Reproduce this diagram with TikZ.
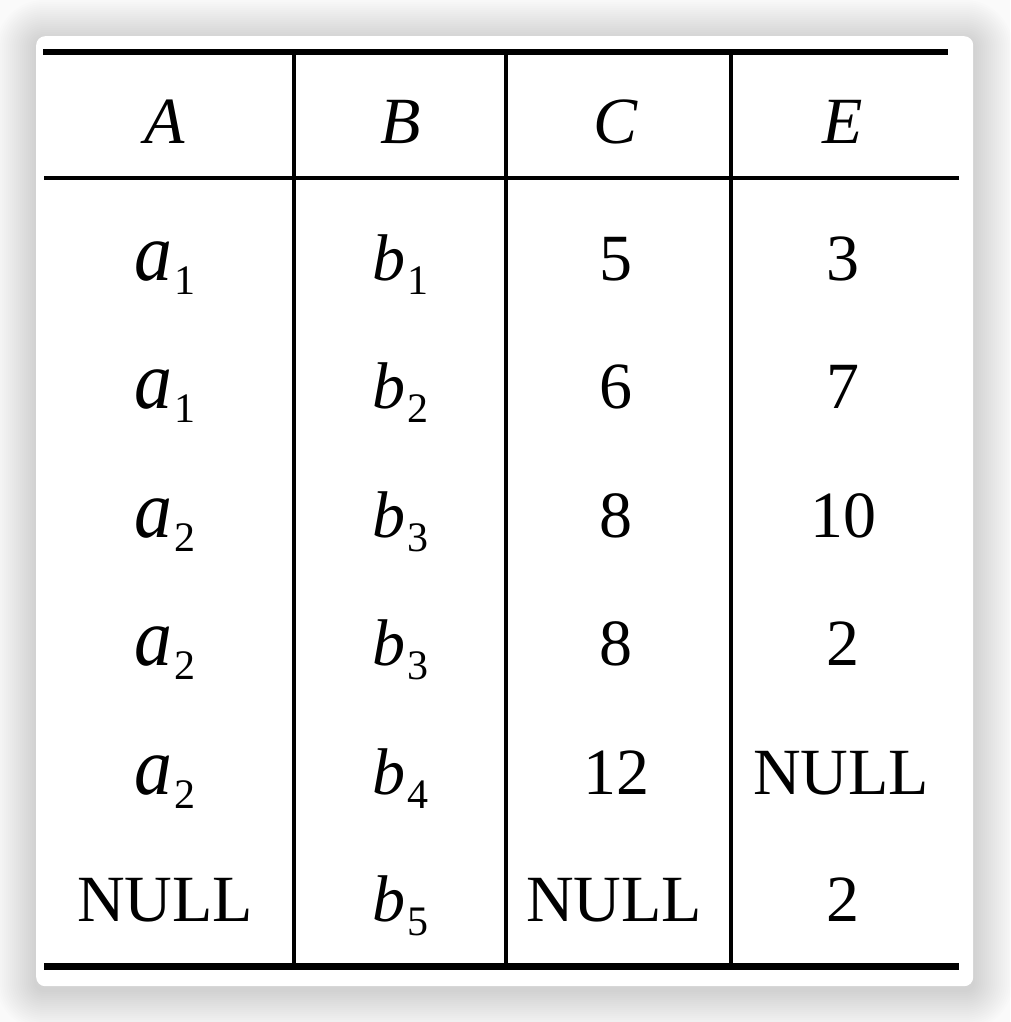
\documentclass[tikz,border=0pt]{standalone}
\usepackage{fontspec}
\usepackage{graphicx}
\setmainfont{Liberation Serif}
\newcommand{\sbs}[1]{\hspace{2pt}\raisebox{-14pt}{\fontsize{42pt}{44pt}\selectfont #1}}
\newcommand{\va}{\scalebox{1.15}[1.25]{\itshape a}}
\newcommand{\vb}{{\itshape b}}
\tikzset{
  cell/.style={anchor=base, inner sep=0pt, font=\fontsize{66pt}{70pt}\selectfont},
  thickrule/.style={line width=6.5pt, black},
  midrule/.style={line width=4pt, black},
  vrule/.style={line width=4pt, black}
}
\begin{document}
\begin{tikzpicture}[x=1pt,y=-1pt]
\useasboundingbox (0,0) rectangle (1010,1022);
\fill[white!98!black] (0,0) rectangle (1010,1022);
% shadow
\foreach \i in {1,...,20}{
  \fill[black, opacity=0.008, rounded corners={8+\i*2}] (36-\i*2,40-\i*2) rectangle (973+\i*2,990+\i*2);
}
\node[draw=none, fill=white, rounded corners=9pt, minimum width=937pt, minimum height=950pt, inner sep=0pt, anchor=north west] (card) at (36,36) {};
% rules
\coordinate (t1) at (43,52);
\coordinate (t2) at (948,52);
\coordinate (h1) at (44,178);
\coordinate (h2) at (959,178);
\coordinate (b1) at (44,966.5);
\coordinate (b2) at (959,966.5);
\draw[thickrule] (t1) -- (t2);
\draw[midrule] (h1) -- (h2);
\draw[thickrule] (b1) -- (b2);
\foreach \x/\n in {293.5/v1,505.5/v2,731/v3}{
  \coordinate (\n a) at (\x,52);
  \coordinate (\n b) at (\x,966.5);
  \draw[vrule] (\n a) -- (\n b);
}
% header
\node[cell] (hA) at (165,143) {\itshape A};
\node[cell] (hB) at (401,143) {\itshape B};
\node[cell] (hC) at (616,143) {\itshape C};
\node[cell] (hE) at (843,143) {\itshape E};
% rows
\node[cell] (r1a) at (165,280) {\va\sbs{1}};
\node[cell] (r1b) at (400,280) {\vb\sbs{1}};
\node[cell] (r1c) at (616,280) {5};
\node[cell] (r1e) at (843,280) {3};
\node[cell] (r2a) at (165,408) {\va\sbs{1}};
\node[cell] (r2b) at (400,408) {\vb\sbs{2}};
\node[cell] (r2c) at (616,408) {6};
\node[cell] (r2e) at (843,408) {7};
\node[cell] (r3a) at (165,537) {\va\sbs{2}};
\node[cell] (r3b) at (400,537) {\vb\sbs{3}};
\node[cell] (r3c) at (616,537) {8};
\node[cell] (r3e) at (843,537) {10};
\node[cell] (r4a) at (165,665) {\va\sbs{2}};
\node[cell] (r4b) at (400,665) {\vb\sbs{3}};
\node[cell] (r4c) at (616,665) {8};
\node[cell] (r4e) at (843,665) {2};
\node[cell] (r5a) at (165,794) {\va\sbs{2}};
\node[cell] (r5b) at (400,794) {\vb\sbs{4}};
\node[cell] (r5c) at (616,794) {12};
\node[cell] (r5e) at (841,794) {NULL};
\node[cell] (r6a) at (165,921) {NULL};
\node[cell] (r6b) at (400,921) {\vb\sbs{5}};
\node[cell] (r6c) at (614,921) {NULL};
\node[cell] (r6e) at (843,921) {2};
\end{tikzpicture}
\end{document}
